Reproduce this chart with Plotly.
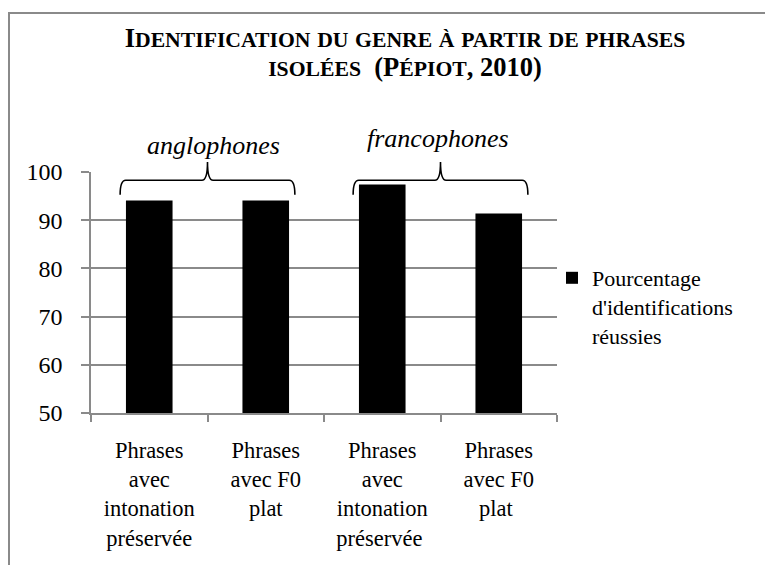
import plotly.graph_objects as go

# données
categories = ["Phrases<br>avec<br>intonation<br>préservée", "Phrases<br>avec F0<br>plat",
              "Phrases<br>avec<br>intonation<br>préservée ", "Phrases<br>avec F0<br>plat "]
pourcentages = [94.1, 94.1, 97.4, 91.4]
serie_nom = "Pourcentage<br>d'identifications<br>réussies"
groupes = ["anglophones", "francophones"]
groupes_debut = [-0.25, 1.75]
groupes_fin = [1.25, 3.25]
groupes_label_x = [0.55, 2.48]
groupes_label_y = [105.6, 107.0]

titre = "Identification du genre à partir de phrases<br>isolées\u00a0\u00a0(Pépiot, 2010)"

FONT = "Liberation Serif"
GRIS = "#8a8a8a"

# la page ajoute une marge de 8px autour de la figure
OFF = 8
W, H = 773 - OFF, 565 - OFF
# zone de tracé (pixels de la page)
L, R, T, B = 91, 557, 172, 413
YMIN, YMAX = 50, 100


def px2x(px):
    return (px - L) / (R - L)


def px2y(py):
    return (B - py) / (B - T)


def cat2x(i):
    return (i + 0.5) / len(categories)


def val2y(v):
    return (v - YMIN) / (YMAX - YMIN)


def petites_caps(texte, grand=26.5, petit=21.7):
    # imitation des petites capitales
    def bloc(t, taille):
        return "<span style='font-size:%spx'>%s</span>" % (taille, t)

    lignes = []
    for part in texte.split("<br>"):
        s, run, petit_run = "", "", None
        for ch in part:
            est_petit = ch.isalpha() and ch.islower()
            if petit_run is not None and est_petit != petit_run:
                s += bloc(run, petit if petit_run else grand)
                run = ""
            petit_run = est_petit
            run += ch.upper() if est_petit else ch
        if run:
            s += bloc(run, petit if petit_run else grand)
        lignes.append(s)
    return "<b>" + "<br>".join(lignes) + "</b>"


fig = go.Figure()
fig.add_trace(go.Bar(x=categories, y=pourcentages, name=serie_nom,
                     marker=dict(color="black", line=dict(width=0)),
                     showlegend=True))

shapes = []
# cadre
shapes.append(dict(type="line", xref="paper", yref="paper",
                   x0=px2x(8), x1=px2x(773), y0=px2y(13), y1=px2y(13),
                   line=dict(color=GRIS, width=2)))
shapes.append(dict(type="line", xref="paper", yref="paper",
                   x0=px2x(9), x1=px2x(9), y0=px2y(13), y1=px2y(566),
                   line=dict(color=GRIS, width=2)))

# accolades
y_bout, y_h, y_pic = val2y(95.3), val2y(98.3), val2y(102.1)
for a, b in zip(groupes_debut, groupes_fin):
    x0, x1 = cat2x(a), cat2x(b)
    xm = (x0 + x1) / 2
    d = 0.012
    p = (f"M{x0},{y_bout} Q{x0},{y_h} {x0 + d},{y_h} "
         f"L{xm - d},{y_h} Q{xm},{y_h} {xm},{y_pic} "
         f"Q{xm},{y_h} {xm + d},{y_h} "
         f"L{x1 - d},{y_h} Q{x1},{y_h} {x1},{y_bout}")
    shapes.append(dict(type="path", xref="paper", yref="paper", path=p,
                       line=dict(color="black", width=1.6)))

annotations = []
for g, gx, gy in zip(groupes, groupes_label_x, groupes_label_y):
    annotations.append(dict(text="<i>%s</i>" % g, xref="paper", yref="paper",
                            x=cat2x(gx), y=val2y(gy), showarrow=False,
                            xanchor="center", yanchor="middle",
                            font=dict(family=FONT, size=26, color="black")))

fig.update_layout(
    width=W, height=H,
    margin=dict(l=L - OFF, r=773 - R, t=T - OFF, b=565 - B, pad=0),
    paper_bgcolor="white", plot_bgcolor="white",
    font=dict(family=FONT, size=22, color="black"),
    title=dict(text=petites_caps(titre), x=(405 - OFF) / W, xanchor="center",
               y=1 - (47 - OFF) / H, yanchor="top", yref="container",
               font=dict(family=FONT, size=22, color="black")),
    bargap=0.6,
    xaxis=dict(type="category", tickson="boundaries", ticks="outside",
               ticklen=7, tickcolor=GRIS, tickwidth=1.5,
               showline=True, linecolor=GRIS, linewidth=1.5,
               showgrid=False, tickangle=0, ticklabelstandoff=16,
               range=[-0.5, 3.5],
               tickfont=dict(family=FONT, size=22.5, color="black")),
    yaxis=dict(range=[YMIN, YMAX], dtick=10, ticks="outside", ticklen=8,
               tickcolor=GRIS, tickwidth=1.5, showline=True, linecolor=GRIS,
               linewidth=1.5, showgrid=True, gridcolor=GRIS, gridwidth=1.5,
               zeroline=False, ticklabelstandoff=14,
               tickfont=dict(family=FONT, size=24, color="black")),
    legend=dict(x=px2x(552), xanchor="left", y=px2y(257), yanchor="top",
                valign="top", bgcolor="rgba(0,0,0,0)", tracegroupgap=0,
                font=dict(family=FONT, size=22, color="black")),
    shapes=shapes,
    annotations=annotations,
)

fig.write_html("out.html")
